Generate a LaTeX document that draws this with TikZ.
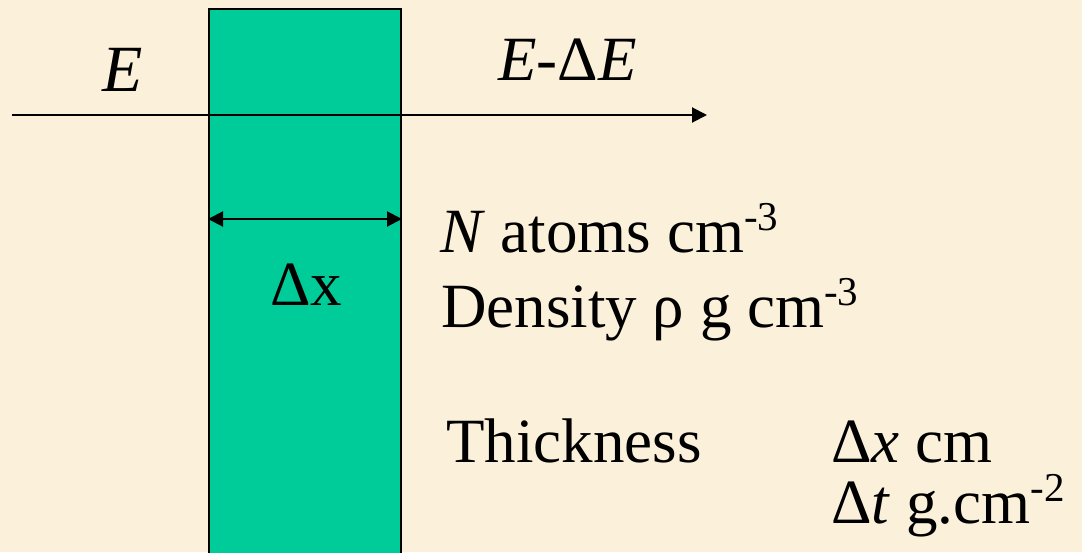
\documentclass[tikz,border=0pt]{standalone}
\usepackage{fontspec}
\setmainfont{Liberation Serif}
\usetikzlibrary{arrows.meta}

\definecolor{parchment}{HTML}{FBF0D9}
\definecolor{slabgreen}{HTML}{00CC99}
\newcommand{\upidx}[1]{\raisebox{22pt}{\fontsize{41}{41}\selectfont #1}}

\begin{document}
\begin{tikzpicture}[
    x=1pt, y=-1pt,
    slab/.style={rectangle, draw, line width=2pt, fill=slabgreen, inner sep=0pt, anchor=north west},
    beam/.style={-{Triangle[length=15pt, width=15pt]}, line width=2pt},
    span/.style={{Triangle[length=15pt, width=15pt]}-{Triangle[length=15pt, width=15pt]}, line width=2pt},
    txt/.style={font=\fontsize{63}{70}\selectfont, inner sep=0pt, anchor=base west},
    txtbig/.style={txt, font=\fontsize{66}{74}\selectfont}
]
\clip (0,0) rectangle (1082,552);
\fill[parchment] (0,0) rectangle (1082,552);

% Absorber slab
\node[slab, minimum width=192pt, minimum height=570pt] (slab) at (208,8) {};

% Beam
\coordinate (src) at (12,115);
\coordinate (dst) at (707,115);
\draw[beam] (src) -- (dst);
\node[txtbig] (ein) at (102,91) {\textit{E}};
\node[txt] (eout) at (498,80) {\textit{E}-Δ\textit{E}};

% Width
\draw[span] (slab.west |- 0,219) -- (slab.east |- 0,219);
\node[txt] (dx) at (270,305) {Δx};

% Material
\node[txt] (natoms) at (440,252) {\textit{N} atoms cm\upidx{-3}};
\node[txt] (dens) at (441,327) {Density ρ g cm\upidx{-3}};
\node[txt] (thick) at (446,462) {Thickness};
\node[txt] (thx) at (831,462) {Δ\textit{x} cm};
\node[txt] (tht) at (831,523) {Δ\textit{t} g.cm\upidx{-2}};
\end{tikzpicture}
\end{document}
